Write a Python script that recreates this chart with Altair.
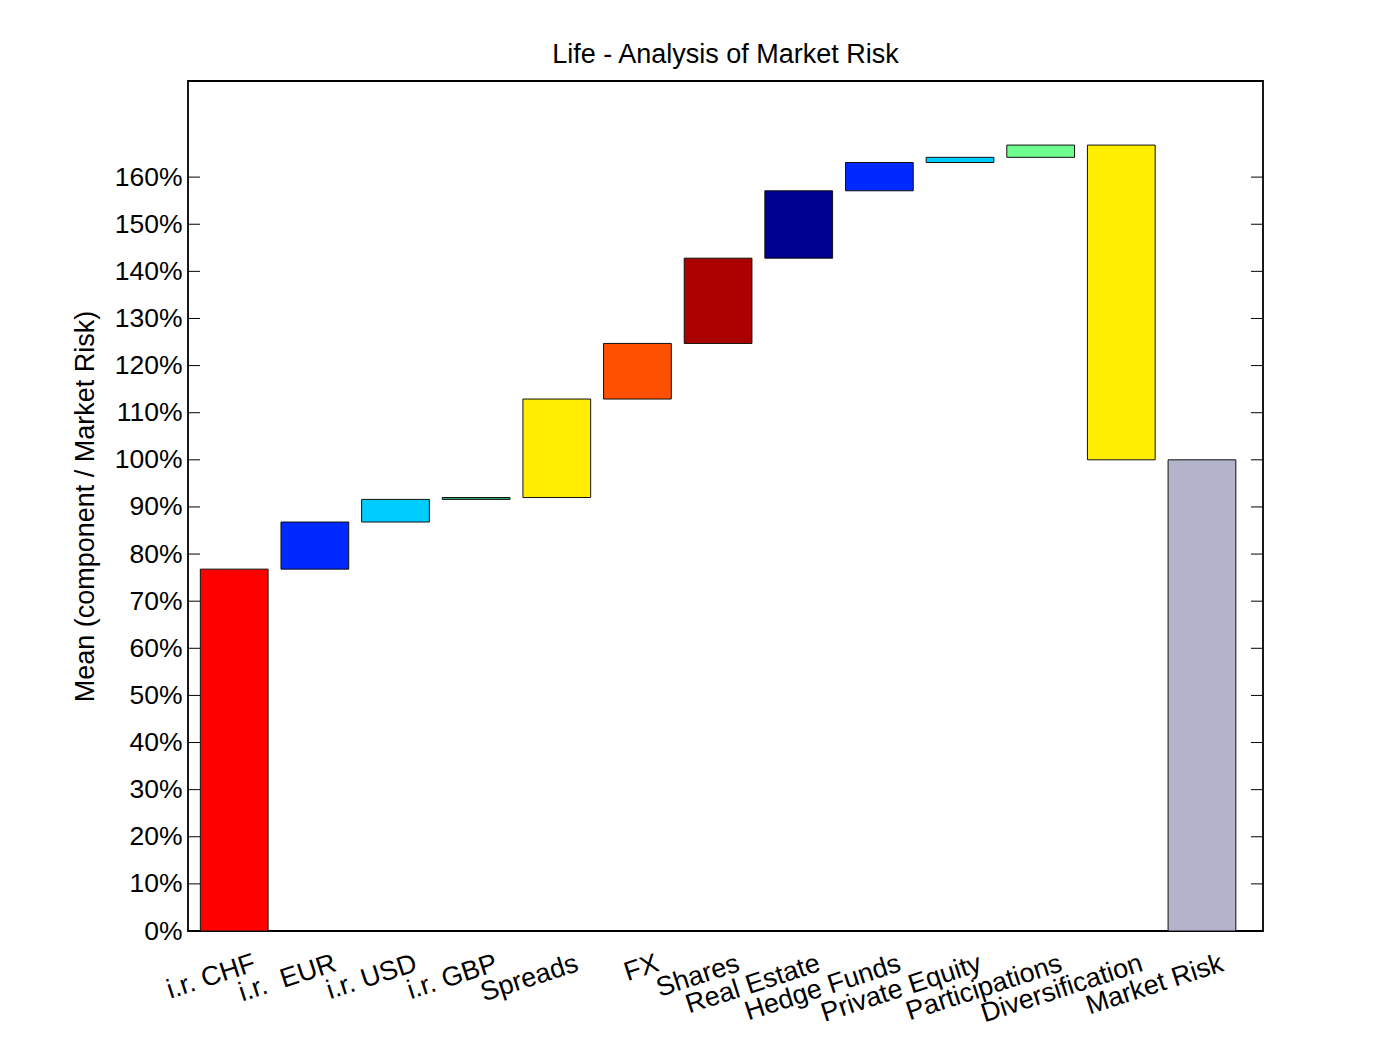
import altair as alt
import pandas as pd

categories = ["i.r. CHF", "i.r.\u00a0\u00a0EUR", "i.r. USD", "i.r. GBP", "Spreads", "FX", "Shares",
              "Real Estate", "Hedge Funds", "Private Equity", "Participations",
              "Diversification", "Market Risk"]
# contribution of each component (% of market risk); last entry is the total
contributions = [76.8, 10.0, 4.8, 0.4, 20.9, 11.8, 18.1, 14.3, 6.0, 1.1, 2.6, -66.8, 100.0]
is_total = [False] * 12 + [True]
colors = ["#FF0000", "#0029FF", "#00CCFF", "#3CB371", "#FFEE00", "#FF5000", "#AA0000",
          "#000090", "#0029FF", "#00CCFF", "#6EFF8E", "#FFEE00", "#B3B3CC"]
y_ticks = list(range(0, 161, 10))

rows = []
running = 0.0
for i, (c, v, t, col) in enumerate(zip(categories, contributions, is_total, colors)):
    if t:
        start, end = 0.0, v
    else:
        start, end = running, running + v
        running = end
    rows.append({"pos": i + 1, "lo": i + 1 - 0.42, "hi": i + 1 + 0.42,
                 "start": start, "end": end, "cat": c, "color": col})
df = pd.DataFrame(rows)
ticks_df = pd.DataFrame({"t": y_ticks})

FONT = "Liberation Sans"
label_expr = "[" + ",".join("'" + c + "'" for c in categories) + "][datum.value - 1]"

xscale = alt.Scale(domain=[0.427, 13.757], nice=False, zero=False)
yscale = alt.Scale(domain=[0, 180.4], nice=False, zero=False)

bars = alt.Chart(df).mark_rect(stroke="#111111", strokeWidth=1).encode(
    x=alt.X("lo:Q", scale=xscale,
            axis=alt.Axis(values=list(range(1, 14)), labelExpr=label_expr, title=None,
                          ticks=False, domain=False, grid=False,
                          labelAngle=342, labelAlign="right", labelBaseline="top",
                          labelPadding=19, labelOffset=16, labelFont=FONT, labelFontSize=27,
                          labelColor="black", labelOverlap=False, labelBound=False,
                          labelFlush=False)),
    x2="hi:Q",
    y=alt.Y("start:Q", scale=yscale,
            axis=alt.Axis(values=y_ticks, labelExpr="datum.value + '%'",
                          title="Mean (component / Market Risk)", titleFont=FONT,
                          titleFontSize=27, titleFontWeight="normal", titleColor="black",
                          titlePadding=15, ticks=False, domain=False, grid=False,
                          labelPadding=6, labelFont=FONT, labelFontSize=26.5,
                          labelColor="black")),
    y2="end:Q",
    color=alt.Color("color:N", scale=None),
)

left_ticks = alt.Chart(ticks_df).mark_rule(color="black", strokeWidth=1).encode(
    y=alt.Y("t:Q", scale=yscale), x=alt.value(0), x2=alt.value(12))
right_ticks = alt.Chart(ticks_df).mark_rule(color="black", strokeWidth=1).encode(
    y=alt.Y("t:Q", scale=yscale), x=alt.value(1063), x2=alt.value(1075))

chart = alt.layer(bars, left_ticks, right_ticks).properties(
    width=1075, height=850,
    title=alt.TitleParams("Life - Analysis of Market Risk", font=FONT, fontSize=27,
                          fontWeight="normal", color="black", offset=12),
    padding={"left": 180, "top": 73, "right": 100, "bottom": 100},
    autosize=alt.AutoSizeParams(type="none"),
).configure(
    background="white",
    view=alt.ViewConfig(stroke="black", strokeWidth=1.8),
)

chart.save("out.html", embed_options={"renderer": "svg", "actions": False})
